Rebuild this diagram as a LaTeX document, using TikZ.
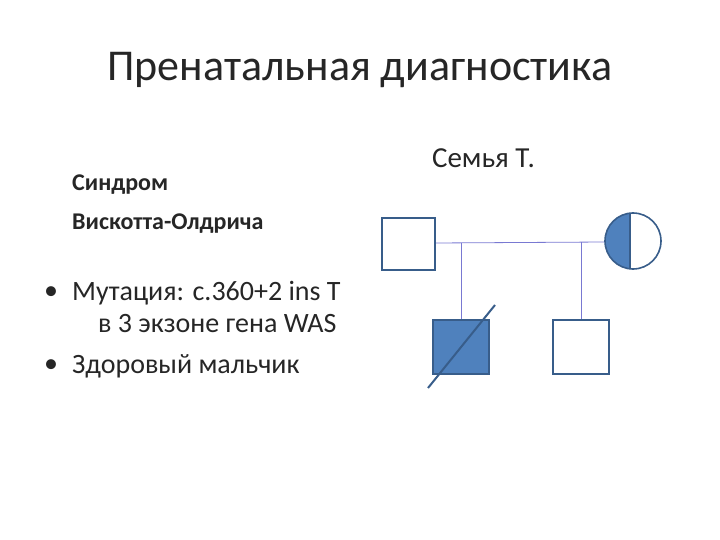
\documentclass[tikz,border=0pt]{standalone}
\usepackage{fontspec}
\setmainfont{Carlito}
\begin{document}
\begin{tikzpicture}[x=1pt,y=-1pt,
  thin/.style={draw=blue!50!gray!70, line width=0.8pt},
  txt/.style={anchor=west, inner sep=0pt, text=black!85}]
\definecolor{fillb}{HTML}{4F81BD}
\definecolor{edge}{HTML}{385D8A}
\useasboundingbox (0,0) rectangle (720,540);
\node[inner sep=0pt, font=\fontsize{44}{50}\selectfont, text=black!85] (title) at (360,70) {Пренатальная диагностика};
\node[txt, font=\bfseries\fontsize{24}{28}\selectfont] (s1) at (72,185) {Синдром};
\node[txt, font=\bfseries\fontsize{24}{28}\selectfont] (s2) at (72,224) {Вискотта-Олдрича};
\node[txt, font=\fontsize{28}{32}\selectfont] (b0) at (44,293) {•};
\node[txt, font=\fontsize{28}{32}\selectfont] (b1) at (72,293) {Мутация: c.360+2 ins T};
\node[txt, font=\fontsize{28}{32}\selectfont] (b2) at (98,324) {в 3 экзоне гена WAS};
\node[txt, font=\fontsize{28}{32}\selectfont] (b4) at (44,366) {•};
\node[txt, font=\fontsize{28}{32}\selectfont] (b3) at (72,366) {Здоровый мальчик};
\node[txt, font=\fontsize{29}{33}\selectfont] (fam) at (432,158) {Семья Т.};
% pedigree
\coordinate (fr) at (435,243);
\coordinate (ml) at (605,242);
\draw[thin] (fr) -- (ml);
\coordinate (j1) at (461,243);
\coordinate (j2) at (581,242);
\coordinate (c1t) at (461,320);
\coordinate (c2t) at (581,320);
\draw[thin] (j1) -- (c1t);
\draw[thin] (j2) -- (c2t);
\draw[draw=edge, line width=1.6pt] (382,218) rectangle (435,270);
\begin{scope}
\clip (633,241) circle[radius=28];
\fill[fillb] (600,210) rectangle (630,272);
\end{scope}
\draw[draw=edge, line width=1.6pt] (633,241) circle[radius=28];
\draw[draw=edge, line width=1.6pt] (630,213) -- (630,269);
\draw[draw=edge, line width=1.6pt, fill=fillb] (433,320) rectangle (489,374);
\draw[draw=edge, line width=1.6pt] (553,320) rectangle (609,374);
\coordinate (sa) at (428,388);
\coordinate (sb) at (495,305);
\draw[draw=edge, line width=2pt] (sa) -- (sb);
\end{tikzpicture}
\end{document}
